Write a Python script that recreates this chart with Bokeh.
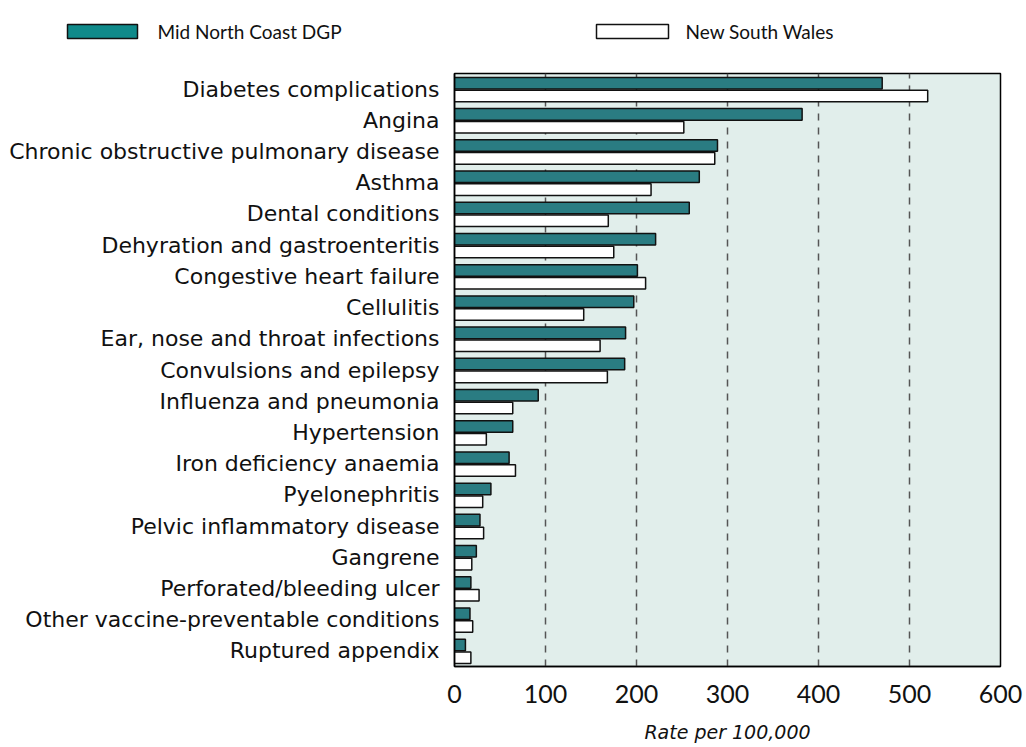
from bokeh.plotting import figure
from bokeh.models import FactorRange, ColumnDataSource, FixedTicker
from bokeh.core.properties import value
from bokeh.layouts import column, row
from bokeh.transform import dodge
from bokeh.embed import file_html
from bokeh.resources import INLINE

categories = [
    "Diabetes complications",
    "Angina",
    "Chronic obstructive pulmonary disease",
    "Asthma",
    "Dental conditions",
    "Dehyration and gastroenteritis",
    "Congestive heart failure",
    "Cellulitis",
    "Ear, nose and throat infections",
    "Convulsions and epilepsy",
    "Influenza and pneumonia",
    "Hypertension",
    "Iron deficiency anaemia",
    "Pyelonephritis",
    "Pelvic inflammatory disease",
    "Gangrene",
    "Perforated/bleeding ulcer",
    "Other vaccine-preventable conditions",
    "Ruptured appendix",
]
mid_north_coast = [470, 382, 289, 269, 258, 221, 201, 197, 188, 187,
                   92, 64, 60, 40, 28, 24, 18, 17, 12]
new_south_wales = [520, 252, 286, 216, 169, 175, 210, 142, 160, 168,
                   64, 35, 67, 31, 32, 19, 27, 20, 18]
series_names = ["Mid North Coast DGP", "New South Wales"]
x_ticks = [0, 100, 200, 300, 400, 500, 600]
grid_ticks = [100, 200, 300, 400, 500]

teal = "#2a7c82"
teal_legend = "#0f8a8a"
dark = "#111111"

src = ColumnDataSource(dict(cat=categories, mnc=mid_north_coast, nsw=new_south_wales))

# ---- legend strip (pixel-like coordinates) ----
lf = figure(width=1024, height=60, x_range=(0, 1024), y_range=(0, 60),
            output_backend="svg", toolbar_location=None,
            min_border_left=0, min_border_right=0, min_border_top=0, min_border_bottom=0)
lf.axis.visible = False
lf.grid.visible = False
lf.outline_line_color = None
lf.background_fill_color = "white"
lf.border_fill_color = "white"
leg_src = ColumnDataSource(dict(
    left=[67, 596], right=[137, 668], top=[36, 36], bottom=[22, 22],
    fill=[teal_legend, "white"], tx=[157, 685], ty=[29, 29], label=series_names))
lf.quad(left="left", right="right", top="top", bottom="bottom", source=leg_src,
        fill_color="fill", line_color=dark, line_width=1.5)
lf.text(x="tx", y="ty", text="label", source=leg_src, text_font=value("Lato"),
        text_font_size="19px", text_baseline="middle", text_align="left", text_color=dark)

# ---- main chart ----
p = figure(width=1024, height=686,
           y_range=FactorRange(*reversed(categories)),
           x_range=(0, 600),
           output_backend="svg", toolbar_location=None,
           min_border_left=454, min_border_right=24,
           min_border_top=13, min_border_bottom=80)

p.background_fill_color = "#e1eeeb"
p.border_fill_color = "white"
p.outline_line_color = "black"
p.outline_line_width = 1.5

p.hbar(y=dodge("cat", 0.19, range=p.y_range), right="mnc", left=0, height=0.37,
       source=src, fill_color=teal, line_color=dark, line_width=1.5)
p.hbar(y=dodge("cat", -0.22, range=p.y_range), right="nsw", left=0, height=0.37,
       source=src, fill_color="white", line_color=dark, line_width=1.5)

p.xgrid.ticker = FixedTicker(ticks=grid_ticks)
p.xgrid.grid_line_color = "#555555"
p.xgrid.grid_line_dash = "7 7"
p.xgrid.grid_line_width = 1.5
p.ygrid.grid_line_color = None

p.xaxis.ticker = FixedTicker(ticks=x_ticks)
p.xaxis.major_tick_line_color = None
p.xaxis.minor_tick_line_color = None
p.xaxis.axis_line_color = "black"
p.xaxis.axis_line_width = 1.5
p.xaxis.major_label_text_font = "Lato"
p.xaxis.major_label_text_font_size = "25px"
p.xaxis.major_label_text_color = dark
p.xaxis.major_label_standoff = 12
p.xaxis.axis_label = "Rate per 100,000"
p.xaxis.axis_label_text_font = "DejaVu Sans"
p.xaxis.axis_label_text_font_style = "italic"
p.xaxis.axis_label_text_font_size = "19px"
p.xaxis.axis_label_text_color = dark
p.xaxis.axis_label_standoff = 15

p.yaxis.major_tick_line_color = None
p.yaxis.minor_tick_line_color = None
p.yaxis.axis_line_color = "black"
p.yaxis.axis_line_width = 1.5
p.yaxis.major_label_text_font = "DejaVu Sans"
p.yaxis.major_label_text_font_size = "22px"
p.yaxis.major_label_text_color = dark
p.yaxis.major_label_standoff = 9

layout = column(row(lf), row(p), spacing=0)
open("out.html", "w").write(file_html(layout, INLINE))
